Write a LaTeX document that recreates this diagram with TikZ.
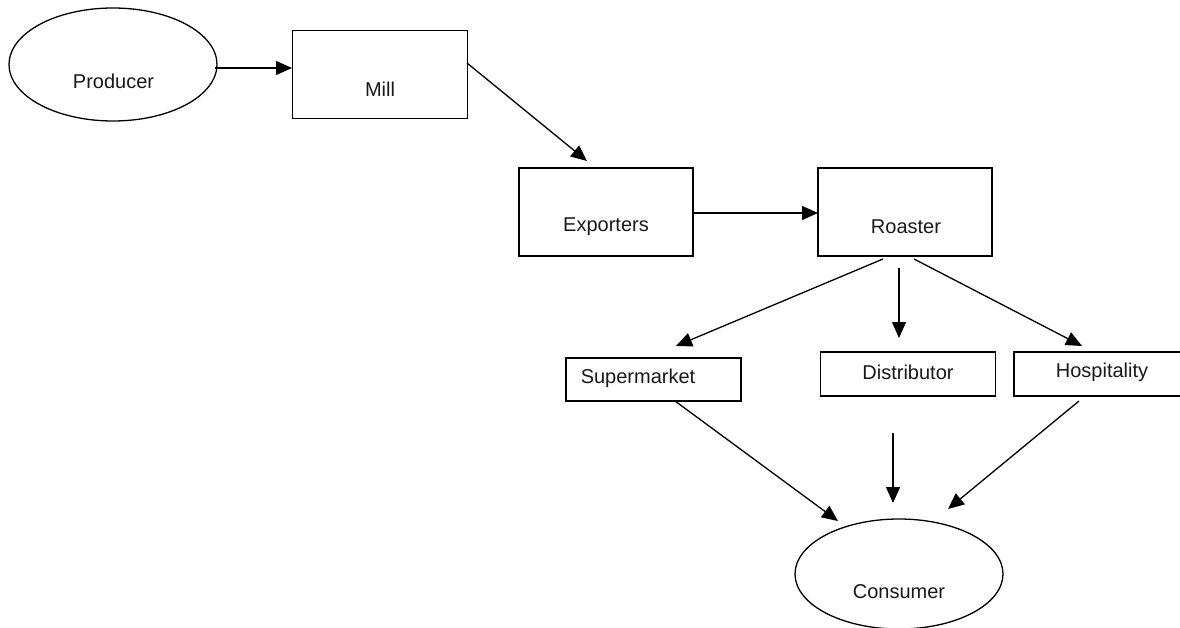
\documentclass[tikz,border=0pt]{standalone}
\usepackage{fontspec}
\setmainfont{Liberation Sans}
\usetikzlibrary{arrows.meta,shapes.geometric}
\begin{document}
\begin{tikzpicture}[x=1pt,y=-1pt,
  shp/.style={draw=black,line width=1.3pt,inner sep=0pt,fill=none},
  box/.style={shp,rectangle},
  oval/.style={shp,ellipse},
  lbl/.style={inner sep=0pt,font=\fontsize{20}{24}\selectfont,text=black!90},
  conn/.style={line width=1.3pt,-{Triangle[length=16pt,width=14pt]}}]
\clip (0,0) rectangle (1180,628);
\fill[white] (0,0) rectangle (1180,628);
% shapes
\node[oval,minimum width=208pt,minimum height=113pt] (producer) at (113,64.5) {};
\node[box,minimum width=175pt,minimum height=88pt] (mill) at (380,74.5) {};
\node[box,minimum width=174pt,minimum height=88pt] (exporters) at (606,212) {};
\node[box,minimum width=174pt,minimum height=88pt] (roaster) at (905,212) {};
\node[box,minimum width=175pt,minimum height=43pt] (supermarket) at (653.5,379.5) {};
\node[box,minimum width=175pt,minimum height=44pt] (distributor) at (908,374) {};
\node[box,minimum width=180pt,minimum height=44pt] (hospitality) at (1104,374) {};
\node[oval,minimum width=208pt,minimum height=110pt] (consumer) at (899,574) {};
% labels
\node[lbl] (producerlbl) at (113.5,81) {Producer};
\node[lbl] (milllbl) at (380,89) {Mill};
\node[lbl] (exporterslbl) at (606,227) {Exporters};
\node[lbl] (roasterlbl) at (906,227) {Roaster};
\node[lbl] (supermarketlbl) at (638,378) {Supermarket};
\node[lbl] (distributorlbl) at (908,372) {Distributor};
\node[lbl] (hospitalitylbl) at (1102,372) {Hospitality};
\node[lbl] (consumerlbl) at (899,592) {Consumer};
% connector ends
\coordinate (p1) at (215,68);
\coordinate (m1) at (292,68);
\coordinate (m2) at (467,63);
\coordinate (e1) at (587,161);
\coordinate (e2) at (693,213);
\coordinate (r1) at (818,213);
\coordinate (r2) at (883,259);
\coordinate (s1) at (676,346);
\coordinate (r3) at (899,268);
\coordinate (d1) at (899,338);
\coordinate (r4) at (914,259);
\coordinate (h1) at (1082,346);
\coordinate (s2) at (675,401);
\coordinate (c1) at (838,521);
\coordinate (d2) at (893,433);
\coordinate (c2) at (893,503);
\coordinate (h2) at (1079,401);
\coordinate (c3) at (948,509);
% connectors
\draw[conn] (p1) -- (m1);
\draw[conn] (m2) -- (e1);
\draw[conn] (e2) -- (r1);
\draw[conn] (r2) -- (s1);
\draw[conn] (r3) -- (d1);
\draw[conn] (r4) -- (h1);
\draw[conn] (s2) -- (c1);
\draw[conn] (d2) -- (c2);
\draw[conn] (h2) -- (c3);
\end{tikzpicture}
\end{document}
